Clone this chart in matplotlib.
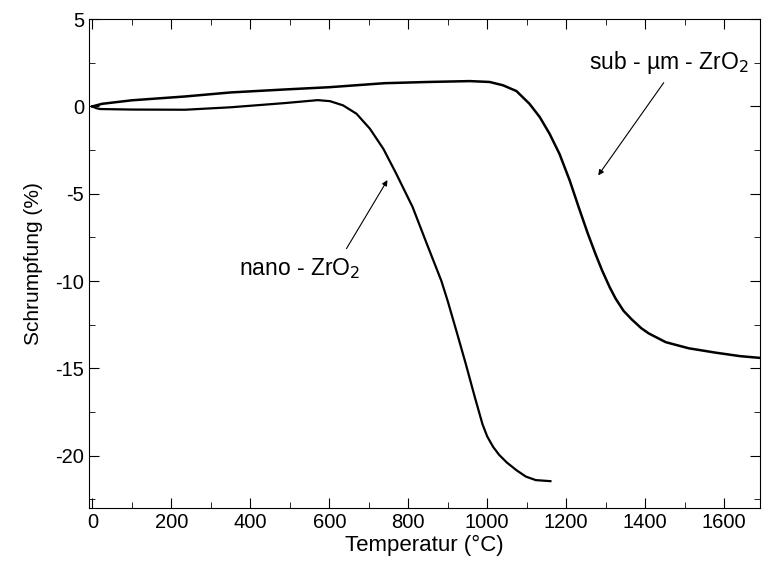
import matplotlib
matplotlib.use("Agg")
import matplotlib.pyplot as plt
from matplotlib.ticker import MultipleLocator

plt.rcParams['font.family'] = ['Liberation Sans', 'DejaVu Sans']
plt.rcParams['axes.unicode_minus'] = False

# sub-um ZrO2 (obere Kurve)
T_sub = [0, 25, 100, 235, 350, 487, 600, 740, 850, 956, 1006, 1040, 1074, 1107,
         1133, 1158, 1183, 1209, 1232, 1255, 1275, 1291, 1310, 1325,
         1345, 1366, 1390, 1409, 1452, 1510, 1578, 1640, 1690]
S_sub = [0, 0.15, 0.35, 0.57, 0.8, 0.97, 1.1, 1.33, 1.4, 1.45, 1.40, 1.21, 0.88, 0.15,
         -0.61, -1.57, -2.72, -4.25, -5.8, -7.3, -8.5, -9.4, -10.35, -11.0,
         -11.7, -12.2, -12.7, -13.0, -13.5, -13.85, -14.1, -14.3, -14.4]

# nano ZrO2
T_nano = [0, 10, 20, 100, 235, 350, 487, 571, 602, 635, 669, 703, 737, 770,
          811, 845, 884, 900, 925, 946, 968, 988, 1000, 1015, 1030, 1050, 1075, 1098,
          1123, 1160]
S_nano = [0, -0.1, -0.15, -0.18, -0.19, -0.05, 0.19, 0.36, 0.3, 0.06, -0.42, -1.28,
          -2.43, -3.87, -5.76, -7.75, -10.0, -11.15, -13.1, -14.77, -16.6, -18.2,
          -18.9, -19.5, -19.95, -20.4, -20.85, -21.2, -21.4, -21.46]

fig = plt.figure(figsize=(7.62, 5.62), dpi=100)
ax = fig.add_axes([0.117, 0.096, 0.88, 0.870])

ax.plot(T_sub, S_sub, color='black', lw=1.8)
ax.plot(T_nano, S_nano, color='black', lw=1.6)

ax.set_xlim(-8, 1690)
ax.set_ylim(-23, 5)
ax.xaxis.set_major_locator(MultipleLocator(200))
ax.xaxis.set_minor_locator(MultipleLocator(100))
ax.yaxis.set_major_locator(MultipleLocator(5))
ax.yaxis.set_minor_locator(MultipleLocator(2.5))
ax.tick_params(which='both', direction='in', top=True, right=True, labelsize=14.5)
ax.tick_params(which='major', length=7)
ax.tick_params(which='minor', length=4)

ax.set_xlabel('Temperatur (°C)', fontsize=16, labelpad=2)
ax.set_ylabel('Schrumpfung (%)', fontsize=15, labelpad=9)

# Beschriftungen mit Pfeilen
ax.annotate('', xy=(1277, -4.08), xytext=(1451, 1.49),
            arrowprops=dict(arrowstyle='-|>', color='black', lw=0.8,
                            mutation_scale=8))
ax.text(1459, 2.5, 'sub - µm - ZrO$_2$', fontsize=16.5, ha='center', va='center')

ax.annotate('', xy=(751, -4.08), xytext=(640, -8.28),
            arrowprops=dict(arrowstyle='-|>', color='black', lw=0.8,
                            mutation_scale=8))
ax.text(526, -9.3, 'nano - ZrO$_2$', fontsize=16.5, ha='center', va='center')

fig.savefig('out.png', dpi=100)
